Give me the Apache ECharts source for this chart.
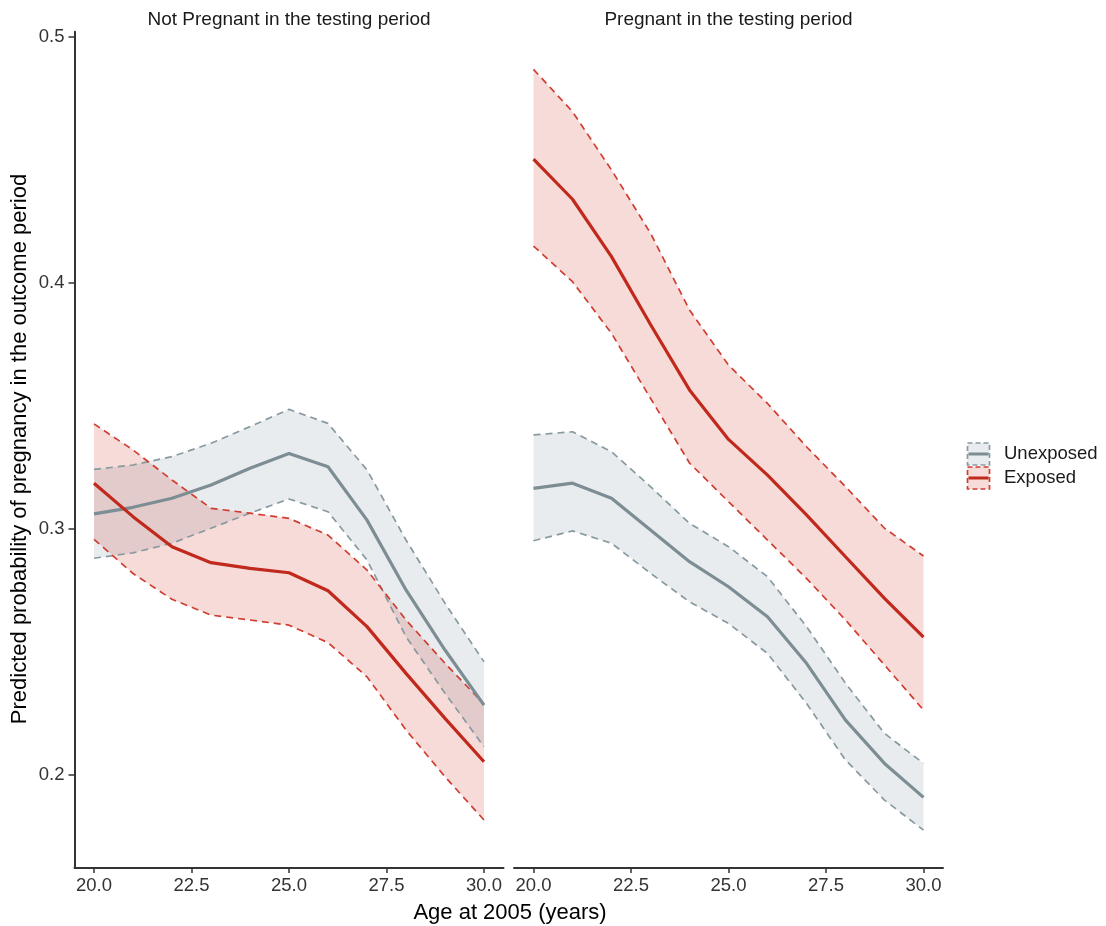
<!DOCTYPE html>
<html>
<head>
<meta charset="utf-8">
<style>
  html, body { margin: 0; padding: 0; background: #ffffff; }
  #chart { width: 1106px; height: 926px; }
</style>
<script src="https://cdn.jsdelivr.net/npm/echarts@6/dist/echarts.min.js"></script>
</head>
<body>
<div id="chart"></div>
<script>
// Age at 2005 (years)
const ages = [20, 21, 22, 23, 24, 25, 26, 27, 28, 29, 30];
const xTicks = [20, 22.5, 25, 27.5, 30];
const yTicks = [0.2, 0.3, 0.4, 0.5];

const panelTitles = ['Not Pregnant in the testing period', 'Pregnant in the testing period'];
const groupNames = ['Unexposed', 'Exposed'];

// Panel 1: not pregnant in the testing period
const notPregUnexpMean = [0.3060, 0.3087, 0.3124, 0.3178, 0.3246, 0.3306, 0.3252, 0.3035, 0.2751, 0.2507, 0.2283];
const notPregUnexpHi   = [0.3241, 0.3259, 0.3293, 0.3347, 0.3415, 0.3485, 0.3428, 0.3239, 0.2954, 0.2697, 0.2459];
const notPregUnexpLo   = [0.2880, 0.2902, 0.2941, 0.3002, 0.3063, 0.3121, 0.3069, 0.2873, 0.2561, 0.2331, 0.2114];
const notPregExpMean   = [0.3185, 0.3049, 0.2927, 0.2862, 0.2839, 0.2821, 0.2748, 0.2602, 0.2412, 0.2229, 0.2053];
const notPregExpHi     = [0.3426, 0.3320, 0.3198, 0.3083, 0.3063, 0.3042, 0.2974, 0.2832, 0.2629, 0.2453, 0.2287];
const notPregExpLo     = [0.2957, 0.2818, 0.2713, 0.2649, 0.2629, 0.2608, 0.2537, 0.2398, 0.2182, 0.1992, 0.1816];

// Panel 2: pregnant in the testing period
const pregUnexpMean = [0.3164, 0.3185, 0.3124, 0.2995, 0.2866, 0.2764, 0.2642, 0.2453, 0.2222, 0.2046, 0.1908];
const pregUnexpHi   = [0.3381, 0.3394, 0.3313, 0.3171, 0.3022, 0.2927, 0.2805, 0.2602, 0.2372, 0.2168, 0.2046];
const pregUnexpLo   = [0.2951, 0.2991, 0.2941, 0.2819, 0.2703, 0.2615, 0.2493, 0.2290, 0.2060, 0.1897, 0.1775];
const pregExpMean   = [0.4502, 0.4339, 0.4106, 0.3830, 0.3564, 0.3363, 0.3218, 0.3056, 0.2886, 0.2717, 0.2559];
const pregExpHi     = [0.4867, 0.4695, 0.4458, 0.4201, 0.3889, 0.3665, 0.3509, 0.3333, 0.3171, 0.3002, 0.2889];
const pregExpLo     = [0.4149, 0.4004, 0.3794, 0.3530, 0.3267, 0.3110, 0.2954, 0.2798, 0.2629, 0.2446, 0.2263];

const FONT = '"Liberation Sans", Arial, Helvetica, sans-serif';
const AXIS_COLOR = '#333333';
const TEXT_COLOR = '#333333';

const palette = {
  Unexposed: { line: '#7c8d93', dash: '#889aa0', fill: 'rgba(123,144,152,0.17)' },
  Exposed:   { line: '#c1291c', dash: '#d03e31', fill: 'rgba(204,42,31,0.17)' }
};

const panels = [
  { groups: [
      { name: 'Unexposed', mean: notPregUnexpMean, hi: notPregUnexpHi, lo: notPregUnexpLo },
      { name: 'Exposed',   mean: notPregExpMean,   hi: notPregExpHi,   lo: notPregExpLo }
  ]},
  { groups: [
      { name: 'Unexposed', mean: pregUnexpMean, hi: pregUnexpHi, lo: pregUnexpLo },
      { name: 'Exposed',   mean: pregExpMean,   hi: pregExpHi,   lo: pregExpLo }
  ]}
];

const grids = [
  { left: 74.5, width: 429, top: 31.7, height: 836.3 },
  { left: 514,  width: 429, top: 31.7, height: 836.3 }
];

const Y_MIN = 0.1621, Y_MAX = 0.5020;

const xAxes = grids.map((g, i) => ({
  type: 'value', gridIndex: i, min: 19.5, max: 30.5,
  axisLine: { show: true, onZero: false, lineStyle: { color: AXIS_COLOR, width: 2 } },
  axisTick: { show: true, customValues: xTicks, length: 5, lineStyle: { color: AXIS_COLOR, width: 1.5 } },
  axisLabel: { show: true, customValues: xTicks, formatter: v => Number(v).toFixed(1),
               color: TEXT_COLOR, fontFamily: FONT, fontSize: 18.5, margin: 8 },
  splitLine: { show: false }
}));

const yAxes = grids.map((g, i) => ({
  type: 'value', gridIndex: i, min: Y_MIN, max: Y_MAX,
  axisLine: { show: i === 0, onZero: false, lineStyle: { color: AXIS_COLOR, width: 2 } },
  axisTick: { show: i === 0, customValues: yTicks, length: 6, lineStyle: { color: AXIS_COLOR, width: 1.5 } },
  axisLabel: { show: i === 0, customValues: yTicks, formatter: v => String(Number(v.toFixed(1))),
               color: TEXT_COLOR, fontFamily: FONT, fontSize: 18.5, margin: 10 },
  splitLine: { show: false }
}));

const series = [];
panels.forEach((panel, p) => {
  // confidence ribbons
  panel.groups.forEach(grp => {
    const col = palette[grp.name];
    series.push({
      type: 'custom', name: grp.name + ' band', xAxisIndex: p, yAxisIndex: p,
      silent: true, z: 1,
      data: ages.map((a, i) => [a, grp.lo[i], grp.hi[i]]),
      encode: { x: 0, y: [1, 2] },
      renderItem: (params, api) => {
        if (params.dataIndex !== 0) return null;
        const pts = [];
        for (let i = 0; i < ages.length; i++) pts.push(api.coord([ages[i], grp.hi[i]]));
        for (let i = ages.length - 1; i >= 0; i--) pts.push(api.coord([ages[i], grp.lo[i]]));
        return { type: 'polygon', shape: { points: pts }, style: { fill: col.fill, stroke: null } };
      }
    });
  });
  // dashed ribbon edges
  panel.groups.forEach(grp => {
    const col = palette[grp.name];
    [grp.hi, grp.lo].forEach(edge => {
      series.push({
        type: 'line', xAxisIndex: p, yAxisIndex: p, silent: true, z: 2,
        data: ages.map((a, i) => [a, edge[i]]),
        showSymbol: false, symbol: 'none',
        lineStyle: { color: col.dash, width: 1.7, type: [7, 5] }
      });
    });
  });
  // fitted probabilities
  panel.groups.forEach(grp => {
    const col = palette[grp.name];
    series.push({
      type: 'line', name: grp.name, xAxisIndex: p, yAxisIndex: p, silent: true, z: 3,
      data: ages.map((a, i) => [a, grp.mean[i]]),
      showSymbol: false, symbol: 'none',
      lineStyle: { color: col.line, width: 3.2 }
    });
  });
});

// legend keys: dashed ribbon box with the fitted line through it
const legendItems = groupNames.map((name, k) => {
  const col = palette[name];
  const top = 443 + k * 24;
  return {
    type: 'group', children: [
      { type: 'rect', shape: { x: 967.5, y: top, width: 22, height: 22 },
        style: { fill: col.fill, stroke: col.dash, lineWidth: 1.7, lineDash: [5, 3] } },
      { type: 'line', shape: { x1: 968.5, y1: top + 11, x2: 988.5, y2: top + 11 },
        style: { stroke: col.line, lineWidth: 3 } },
      { type: 'text', x: 1004, y: top + 11,
        style: { text: name, fill: '#1a1a1a', font: '18.5px ' + FONT, align: 'left', verticalAlign: 'middle' } }
    ]
  };
});

const texts = [
  { type: 'text', x: 289, y: 19.5,
    style: { text: panelTitles[0], fill: '#1a1a1a', font: '19px ' + FONT, align: 'center', verticalAlign: 'middle' } },
  { type: 'text', x: 728.5, y: 19.5,
    style: { text: panelTitles[1], fill: '#1a1a1a', font: '19px ' + FONT, align: 'center', verticalAlign: 'middle' } },
  { type: 'text', x: 510, y: 912.5,
    style: { text: 'Age at 2005 (years)', fill: '#000000', font: '22px ' + FONT, align: 'center', verticalAlign: 'middle' } },
  { type: 'text', x: 20, y: 449, rotation: Math.PI / 2,
    style: { text: 'Predicted probability of pregnancy in the outcome period', fill: '#000000', font: '22px ' + FONT, align: 'center', verticalAlign: 'middle' } }
];

const chart = echarts.init(document.getElementById('chart'), null, { renderer: 'canvas' });
chart.setOption({
  animation: false,
  backgroundColor: '#ffffff',
  grid: grids,
  xAxis: xAxes,
  yAxis: yAxes,
  series: series,
  graphic: texts.concat(legendItems)
});
</script>
</body>
</html>
